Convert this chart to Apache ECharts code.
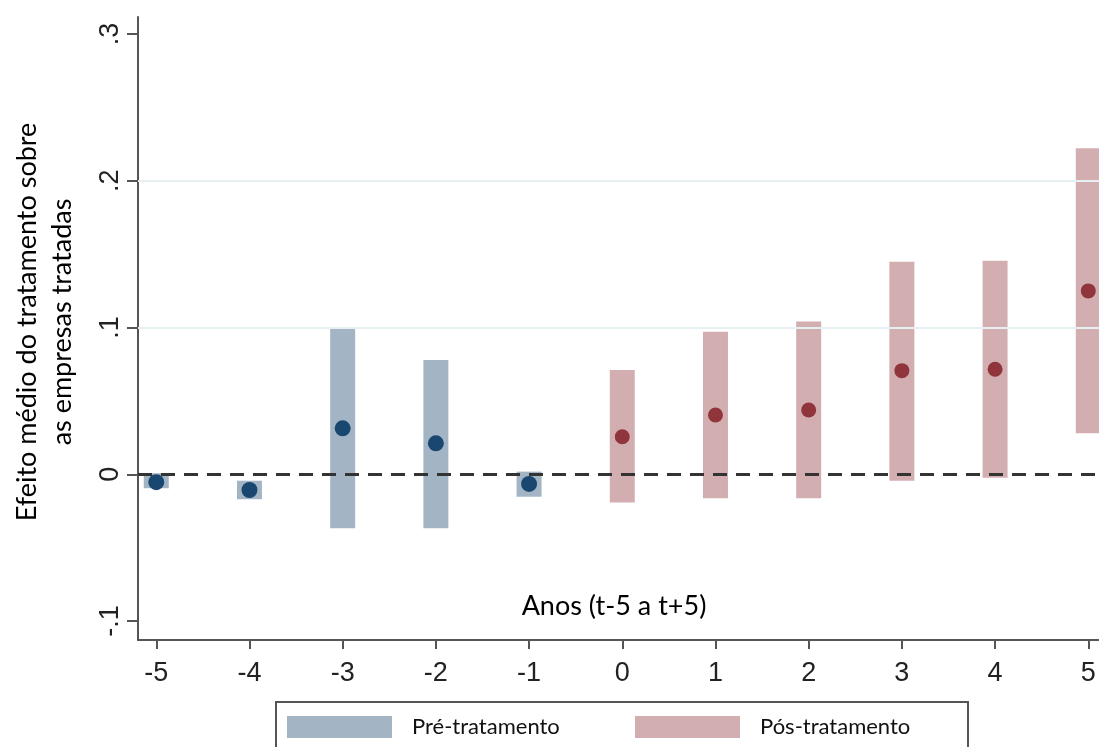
<!DOCTYPE html>
<html>
<head>
<meta charset="utf-8">
<script src="https://cdn.jsdelivr.net/npm/echarts@6/dist/echarts.min.js"></script>
<style>
html,body{margin:0;padding:0;background:#fff;}
#chart{width:1099px;height:747px;}
</style>
</head>
<body>
<div id="chart"></div>
<script>
// ---- data ----
const preYears = [-5, -4, -3, -2, -1];
const preEst   = [-0.0054, -0.0107, 0.0313, 0.0211, -0.0066];
const preLo    = [-0.0095, -0.0170, -0.0368, -0.0368, -0.0153];
const preHi    = [0.0007, -0.0044, 0.0995, 0.0779, 0.0018];

const postYears = [0, 1, 2, 3, 4, 5];
const postEst   = [0.0256, 0.0404, 0.0438, 0.0706, 0.0715, 0.1249];
const postLo    = [-0.0193, -0.0163, -0.0163, -0.0044, -0.0023, 0.0279];
const postHi    = [0.0710, 0.0971, 0.1040, 0.1448, 0.1455, 0.2221];

const xTicks = [-5, -4, -3, -2, -1, 0, 1, 2, 3, 4, 5];
const yTicks = [-0.1, 0, 0.1, 0.2, 0.3];
const gridValues = [0.1, 0.2];

const preName = 'Pré-tratamento';
const postName = 'Pós-tratamento';
const yTitle = 'Efeito médio do tratamento sobre\nas empresas tratadas';
const xTitle = 'Anos (t-5 a t+5)';

// ---- styles ----
const navy = '#1a476f';
const maroon = '#90353b';
const navyBar = 'rgba(26,71,111,0.40)';
const maroonBar = 'rgba(144,53,59,0.40)';
const titleFont = 'Lato, "Open Sans", sans-serif';
const tickFont = '"Liberation Sans", Arial, sans-serif';

function ciData(xs, lo, hi) { return xs.map((x, i) => [x, lo[i], hi[i]]); }
function ptData(xs, v) { return xs.map((x, i) => [x, v[i]]); }

function ciRender(color) {
  return function (params, api) {
    const x = api.value(0), lo = api.value(1), hi = api.value(2);
    const pTop = api.coord([x, hi]);
    const pBot = api.coord([x, lo]);
    const w = 25;
    return {
      type: 'rect',
      shape: { x: pTop[0] - w / 2, y: pTop[1], width: w, height: pBot[1] - pTop[1] },
      style: { fill: color }
    };
  };
}

const chart = echarts.init(document.getElementById('chart'), null, { renderer: 'canvas' });

chart.setOption({
  animation: false,
  backgroundColor: '#fff',
  grid: { left: 138, right: 0, top: 17, bottom: 107, containLabel: false, outerBoundsMode: 'none' },
  xAxis: {
    type: 'value',
    min: -5.196,
    max: 5.115,
    axisLine: { show: true, onZero: false, lineStyle: { color: '#555', width: 2 } },
    axisTick: { show: true, customValues: xTicks, length: 9, lineStyle: { color: '#555', width: 2 } },
    axisLabel: { customValues: xTicks, fontFamily: tickFont, fontSize: 27, color: '#222', margin: 20 },
    splitLine: { show: false }
  },
  yAxis: {
    type: 'value',
    min: -0.1129,
    max: 0.3115,
    axisLine: { show: true, onZero: false, lineStyle: { color: '#555', width: 2 } },
    axisTick: { show: true, customValues: yTicks, length: 11, lineStyle: { color: '#555', width: 2 } },
    axisLabel: {
      customValues: yTicks,
      rotate: 90,
      fontFamily: tickFont, fontSize: 27, color: '#222', margin: 14,
      formatter: function (v) {
        const r = Math.round(v * 10) / 10;
        if (r === 0) return '0';
        return String(r).replace('0.', '.');
      }
    },
    splitLine: { show: false }
  },
  legend: [
    {
      left: 287, top: 716, padding: 0, icon: 'rect', itemWidth: 105, itemHeight: 22,
      selectedMode: false,
      textStyle: { fontFamily: titleFont, fontSize: 22, color: '#111', padding: [0, 0, 0, 15] },
      data: [{ name: preName, itemStyle: { color: navyBar } }]
    },
    {
      left: 635, top: 716, padding: 0, icon: 'rect', itemWidth: 105, itemHeight: 22,
      selectedMode: false,
      textStyle: { fontFamily: titleFont, fontSize: 22, color: '#111', padding: [0, 0, 0, 15] },
      data: [{ name: postName, itemStyle: { color: maroonBar } }]
    }
  ],
  graphic: [
    {
      type: 'text', x: 45, y: 322, rotation: Math.PI / 2,
      style: {
        text: yTitle, fontFamily: titleFont, fontSize: 27, lineHeight: 35,
        fill: '#000', align: 'center', verticalAlign: 'middle'
      }
    },
    {
      type: 'text', x: 614, y: 606,
      style: {
        text: xTitle, fontFamily: titleFont, fontSize: 27,
        fill: '#000', align: 'center', verticalAlign: 'middle'
      }
    },
    {
      type: 'rect', shape: { x: 276, y: 702, width: 692, height: 70 },
      style: { fill: 'none', stroke: '#555', lineWidth: 2 }
    }
  ],
  series: [
    {
      name: 'grid',
      type: 'line',
      data: [],
      silent: true,
      z: 1,
      markLine: {
        silent: true, symbol: 'none', label: { show: false }, animation: false,
        lineStyle: { color: '#e6eff1', width: 2, type: 'solid' },
        data: gridValues.map(v => ({ yAxis: v }))
      }
    },
    {
      name: preName,
      type: 'custom',
      renderItem: ciRender(navyBar),
      itemStyle: { color: navyBar },
      data: ciData(preYears, preLo, preHi),
      z: 2
    },
    {
      name: postName,
      type: 'custom',
      renderItem: ciRender(maroonBar),
      itemStyle: { color: maroonBar },
      data: ciData(postYears, postLo, postHi),
      z: 2
    },
    {
      name: 'zero',
      type: 'line',
      data: [],
      silent: true,
      z: 3,
      markLine: {
        silent: true, symbol: 'none', label: { show: false }, animation: false,
        lineStyle: { color: '#333', width: 3, type: [14, 9] },
        data: [{ yAxis: 0 }]
      }
    },
    {
      name: 'preEst',
      type: 'scatter',
      symbol: 'circle',
      symbolSize: 16,
      itemStyle: { color: navy, opacity: 1 },
      data: ptData(preYears, preEst),
      z: 4
    },
    {
      name: 'postEst',
      type: 'scatter',
      symbol: 'circle',
      symbolSize: 15,
      itemStyle: { color: maroon, opacity: 1 },
      data: ptData(postYears, postEst),
      z: 4
    }
  ]
});
</script>
</body>
</html>
